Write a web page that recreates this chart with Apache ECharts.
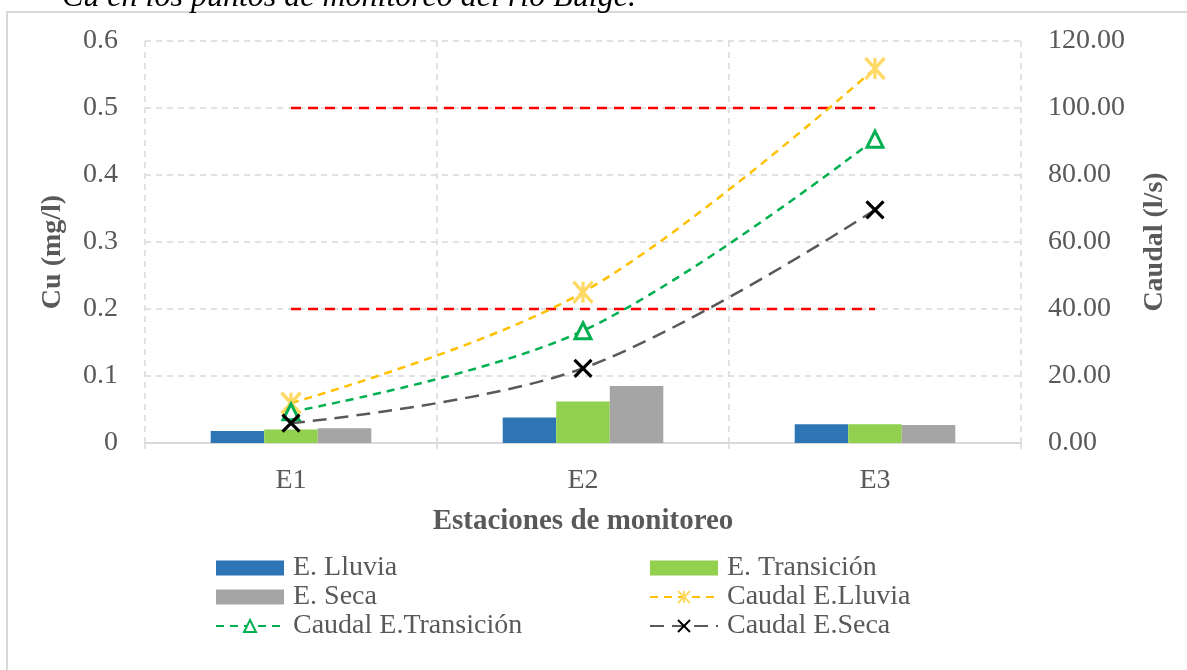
<!DOCTYPE html>
<html>
<head>
<meta charset="utf-8">
<script src="https://cdn.jsdelivr.net/npm/echarts@6/dist/echarts.min.js"></script>
<style>
  html, body { margin: 0; padding: 0; background: #ffffff; }
  #chart { width: 1187px; height: 670px; }
</style>
</head>
<body>
<div id="chart"></div>
<script>
// Estaciones de monitoreo
const categories = ['E1', 'E2', 'E3'];

// Concentración de Cu (mg/l) por época
const cuLluvia = [0.018, 0.038, 0.028];
const cuTransicion = [0.020, 0.062, 0.028];
const cuSeca = [0.022, 0.085, 0.027];

// Caudal (l/s) por época
const caudalLluvia = [11.9, 45.0, 111.8];
const caudalTransicion = [9.3, 33.5, 90.7];
const caudalSeca = [5.9, 22.3, 69.6];

// Límites de referencia (mg/l)
const limiteAlto = [0.5, 0.5, 0.5];
const limiteBajo = [0.2, 0.2, 0.2];

// Etiquetas de los ejes
const cuTicks = ['0', '0.1', '0.2', '0.3', '0.4', '0.5', '0.6'];

const FONT = '"Liberation Serif", "Times New Roman", serif';
const TXT = '#595959';
const GRID = '#D9D9D9';
const FS = 28;

const starPath = 'path://M0,-10 L0,10 M-8.66,-10 L8.66,10 M-8.66,10 L8.66,-10';
const crossPath = 'path://M-10,-10 L10,10 M-10,10 L10,-10';

const chart = echarts.init(document.getElementById('chart'), null, { renderer: 'canvas' });

const legendText = { fontFamily: FONT, fontSize: FS, color: TXT, lineHeight: 28, padding: [0, 0, 0, 4] };

const option = {
  backgroundColor: '#ffffff',
  animation: false,
  textStyle: { fontFamily: FONT },
  graphic: [
    {
      type: 'rect',
      shape: { x: 7, y: 12, width: 1200, height: 700 },
      style: { fill: 'none', stroke: GRID, lineWidth: 2 },
      silent: true
    },
    {
      type: 'text',
      x: 62,
      y: 14,
      style: {
        text: 'Cu en los puntos de monitoreo del río Bulge.',
        font: 'italic 32px ' + FONT,
        fill: '#000000',
        verticalAlign: 'bottom'
      },
      silent: true
    }
  ],
  grid: { left: 145, right: 166, top: 41, bottom: 227 },
  legend: [
    {
      left: 210, top: 549, orient: 'vertical',
      itemWidth: 68, itemHeight: 15, itemGap: 1,
      textStyle: legendText,
      data: [
        { name: 'E. Lluvia', icon: 'rect' },
        { name: 'E. Seca', icon: 'rect' },
        'Caudal E.Transición'
      ]
    },
    {
      left: 644, top: 549, orient: 'vertical',
      itemWidth: 68, itemHeight: 15, itemGap: 1,
      textStyle: legendText,
      data: [
        { name: 'E. Transición', icon: 'rect' },
        'Caudal E.Lluvia',
        'Caudal E.Seca'
      ]
    }
  ],
  xAxis: {
    type: 'category',
    data: categories,
    name: 'Estaciones de monitoreo',
    nameLocation: 'middle',
    nameGap: 64,
    nameTextStyle: { fontFamily: FONT, fontSize: 29, fontWeight: 'bold', color: TXT },
    axisLine: { show: true, lineStyle: { color: GRID, width: 2 } },
    axisTick: { show: true, length: 9, lineStyle: { color: GRID, width: 1.5, type: 'dashed' } },
    axisLabel: { fontFamily: FONT, fontSize: FS, color: TXT, margin: 24 },
    splitLine: { show: true, lineStyle: { color: GRID, width: 1.5, type: [6, 5] } }
  },
  yAxis: [
    {
      type: 'value',
      min: 0, max: 0.6, interval: 0.1,
      name: 'Cu (mg/l)',
      nameLocation: 'middle',
      nameGap: 78,
      nameRotate: 90,
      nameTextStyle: { fontFamily: FONT, fontSize: FS, fontWeight: 'bold', color: TXT, padding: [0, 20, 0, 0] },
      axisLine: { show: false },
      axisTick: { show: false },
      axisLabel: {
        fontFamily: FONT, fontSize: FS, color: TXT, margin: 27,
        formatter: (v) => cuTicks[Math.round(v * 10)]
      },
      splitLine: { show: true, lineStyle: { color: GRID, width: 1.5, type: [6, 5] } }
    },
    {
      type: 'value',
      min: 0, max: 120, interval: 20,
      name: 'Caudal (l/s)',
      nameLocation: 'middle',
      nameGap: 120,
      nameRotate: 90,
      nameTextStyle: { fontFamily: FONT, fontSize: FS, fontWeight: 'bold', color: TXT },
      axisLine: { show: false },
      axisTick: { show: false },
      axisLabel: {
        fontFamily: FONT, fontSize: FS, color: TXT, margin: 27,
        formatter: (v) => v.toFixed(2)
      },
      splitLine: { show: false }
    }
  ],
  series: [
    {
      name: 'E. Lluvia', type: 'bar', yAxisIndex: 0, data: cuLluvia,
      barCategoryGap: '45%', barGap: '0%',
      itemStyle: { color: '#2E75B6' }
    },
    {
      name: 'E. Transición', type: 'bar', yAxisIndex: 0, data: cuTransicion,
      barCategoryGap: '45%', barGap: '0%',
      itemStyle: { color: '#92D050' }
    },
    {
      name: 'E. Seca', type: 'bar', yAxisIndex: 0, data: cuSeca,
      barCategoryGap: '45%', barGap: '0%',
      itemStyle: { color: '#A5A5A5' }
    },
    {
      name: 'Límite 0.5', type: 'line', yAxisIndex: 0, data: limiteAlto,
      symbol: 'none', silent: true, z: 1,
      lineStyle: { color: '#FF0000', width: 2.5, type: [10, 7] }
    },
    {
      name: 'Límite 0.2', type: 'line', yAxisIndex: 0, data: limiteBajo,
      symbol: 'none', silent: true, z: 1,
      lineStyle: { color: '#FF0000', width: 2.5, type: [10, 7] }
    },
    {
      name: 'Caudal E.Lluvia', type: 'line', yAxisIndex: 1, data: caudalLluvia,
      smooth: 0.35,
      symbol: starPath, symbolSize: [19, 21],
      itemStyle: { color: '#FFD966', borderColor: '#FFD966', borderWidth: 3.5 },
      lineStyle: { color: '#FFC000', width: 2.5, type: [8, 6] }
    },
    {
      name: 'Caudal E.Transición', type: 'line', yAxisIndex: 1, data: caudalTransicion,
      smooth: 0.35,
      symbol: 'triangle', symbolSize: 16,
      itemStyle: { color: '#ffffff', borderColor: '#00B050', borderWidth: 3 },
      lineStyle: { color: '#00B050', width: 2.5, type: [8, 6] }
    },
    {
      name: 'Caudal E.Seca', type: 'line', yAxisIndex: 1, data: caudalSeca,
      smooth: 0.35,
      symbol: crossPath, symbolSize: 17,
      itemStyle: { color: '#000000', borderColor: '#000000', borderWidth: 3.2 },
      lineStyle: { color: '#595959', width: 2.5, type: [14, 8] }
    }
  ]
};

chart.setOption(option);
</script>
</body>
</html>
